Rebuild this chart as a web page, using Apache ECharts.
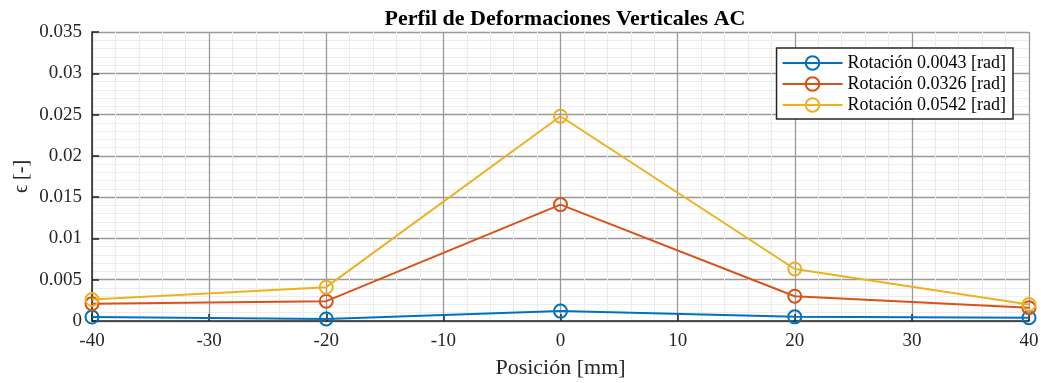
<!DOCTYPE html>
<html><head><meta charset="utf-8">
<script src="https://cdn.jsdelivr.net/npm/echarts@6/dist/echarts.min.js"></script>
<style>html,body{margin:0;padding:0;background:#fff}#c{width:1041px;height:383px}</style>
</head><body><div id="c"></div>
<script>
const positions = [-40, -20, 0, 20, 40];
const seriesNames = ['Rotación 0.0043 [rad]', 'Rotación 0.0326 [rad]', 'Rotación 0.0542 [rad]'];
const rot0043 = [0.00048, 0.00025, 0.0012, 0.0005, 0.0004];
const rot0326 = [0.0021, 0.0024, 0.0141, 0.0030, 0.0016];
const rot0542 = [0.0026, 0.0041, 0.0248, 0.0063, 0.0020];
const colors = ['#0072BD', '#D95319', '#EDB120'];
const FONT = 'Liberation Serif';

const chart = echarts.init(document.getElementById('c'));
const mk = (name, vals, i) => ({
  name, type: 'line', data: positions.map((x, k) => [x, vals[k]]),
  symbol: 'circle', symbolSize: 13,
  lineStyle: {color: colors[i], width: 2},
  itemStyle: {color: 'rgba(255,255,255,0)', borderColor: colors[i], borderWidth: 2},
  z: 3 + i
});
chart.setOption({
  animation: false,
  textStyle: {fontFamily: FONT},
  title: {text: 'Perfil de Deformaciones Verticales AC', left: 560, textAlign: 'center', top: 3,
    textStyle: {fontFamily: FONT, fontWeight: 'bold', fontSize: 22, color: '#000'}},
  grid: {left: 92, right: 12, top: 32, bottom: 62, show: false, containLabel: false, outerBoundsMode: 'none'},
  legend: {
    orient: 'vertical', right: 28, top: 48, backgroundColor: '#fff',
    borderColor: '#262626', borderWidth: 1.5, padding: [6, 7, 5, 5], itemGap: 3,
    itemWidth: 60, itemHeight: 17, data: seriesNames,
    textStyle: {fontFamily: FONT, fontSize: 18, color: '#000'}
  },
  xAxis: {
    type: 'value', min: -40, max: 40, interval: 10, position: 'bottom',
    name: 'Posición [mm]', nameLocation: 'middle', nameGap: 36, nameMoveOverlap: false,
    nameTextStyle: {fontFamily: FONT, fontSize: 22, color: '#262626'},
    axisLabel: {fontFamily: FONT, fontSize: 19, color: '#262626', margin: 11},
    axisLine: {show: true, onZero: false, lineStyle: {color: '#262626', width: 1.5}},
    axisTick: {show: true, inside: true, length: 7, lineStyle: {color: '#262626', width: 1.5}},
    splitLine: {show: true, lineStyle: {color: '#999999', width: 1.3}},
    minorTick: {show: false, splitNumber: 5},
    minorSplitLine: {show: true, lineStyle: {color: '#ececec', width: 1}}
  },
  yAxis: {
    type: 'value', min: 0, max: 0.035, interval: 0.005, position: 'left',
    name: 'ϵ [-]', nameLocation: 'middle', nameGap: 60, nameRotate: 90, nameMoveOverlap: false,
    nameTextStyle: {fontFamily: FONT, fontSize: 20, color: '#262626'},
    axisLabel: {fontFamily: FONT, fontSize: 19, color: '#262626', margin: 10,
      formatter: v => (v === 0 ? '0' : String(+v.toFixed(3)))},
    axisLine: {show: true, onZero: false, lineStyle: {color: '#262626', width: 1.5}},
    axisTick: {show: true, inside: true, length: 7, lineStyle: {color: '#262626', width: 1.5}},
    splitLine: {show: true, lineStyle: {color: '#999999', width: 1.3}},
    minorTick: {show: false, splitNumber: 5},
    minorSplitLine: {show: true, lineStyle: {color: '#ececec', width: 1}}
  },
  series: [mk(seriesNames[0], rot0043, 0), mk(seriesNames[1], rot0326, 1), mk(seriesNames[2], rot0542, 2)]
});
</script></body></html>
